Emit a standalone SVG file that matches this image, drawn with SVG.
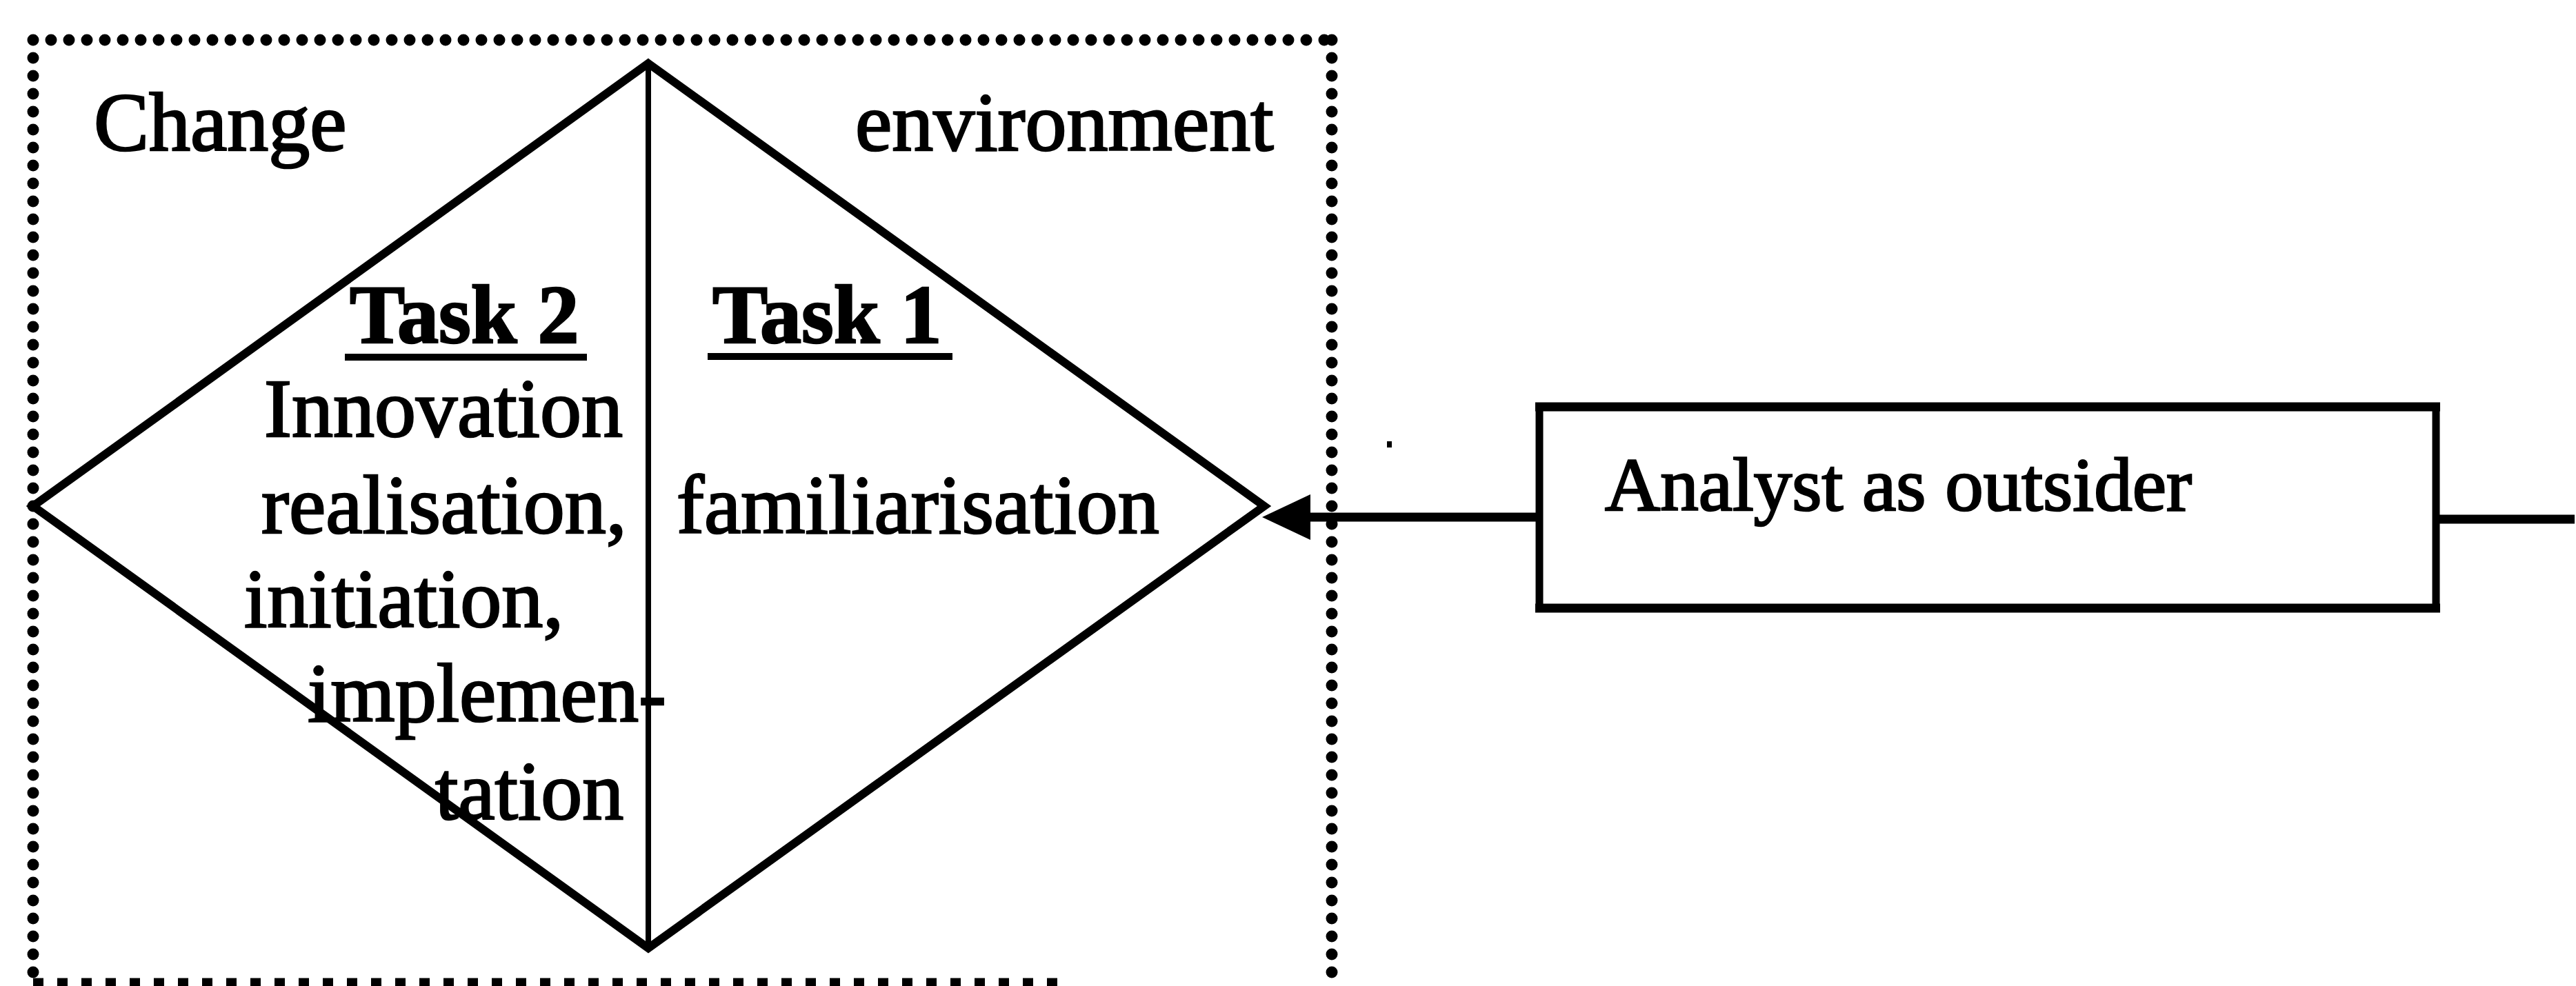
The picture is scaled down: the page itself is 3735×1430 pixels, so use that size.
<svg xmlns="http://www.w3.org/2000/svg" width="3735" height="1430" viewBox="0 0 3735 1430">
  <style>
    .lbl { font-family: "Liberation Serif", "Times New Roman", serif; font-size: 120px; fill: #000; stroke: #000; stroke-width: 2.6; }
    .bold { font-weight: bold; }
    .edge { fill: none; stroke: #000; stroke-linecap: round; stroke-linejoin: miter; }
    .dots { fill: none; stroke: #000; stroke-width: 17; stroke-linecap: round; stroke-dasharray: 0 26; }
  </style>
  <defs>
    <marker id="arrowhead" markerUnits="userSpaceOnUse" markerWidth="72" markerHeight="66" refX="0" refY="33" orient="auto">
      <path d="M0,0 L70,33 L0,66 Z" fill="#000"/>
    </marker>
  </defs>
  <rect width="3735" height="1430" fill="#fff"/>

  <!-- change environment boundary (dotted) -->
  <g id="environment">
    <path class="dots" d="M48,58 H1931 M48,58 V1422 M1931,58 V1422"/>
    <path class="dots" d="M48,1427 H1545" style="stroke-dasharray:15 20;stroke-linecap:butt"/>
    <text class="lbl" x="136" y="218">Change</text>
    <text class="lbl" x="1240" y="218">environment</text>
  </g>

  <!-- task diamond split into Task 2 (left) and Task 1 (right) -->
  <g id="task-diamond">
    <path class="edge" style="stroke-width:12" d="M940,92 L1833,734 L940,1375 L48,734 Z"/>
    <line class="edge" style="stroke-width:8" x1="940" y1="92" x2="940" y2="1375"/>
  </g>

  <g id="task2">
    <text class="lbl bold" x="507" y="497">Task 2</text>
    <line x1="500" y1="518" x2="851" y2="518" stroke="#000" stroke-width="10"/>
    <text class="lbl" x="383" y="633">Innovation</text>
    <text class="lbl" x="379" y="773">realisation,</text>
    <text class="lbl" x="354" y="909">initiation,</text>
    <text class="lbl" x="446" y="1046">implemen-</text>
    <text class="lbl" x="631" y="1188">tation</text>
  </g>

  <g id="task1">
    <text class="lbl bold" x="1033" y="497">Task 1</text>
    <line x1="1026" y1="517" x2="1381" y2="517" stroke="#000" stroke-width="10"/>
    <text class="lbl" x="981" y="773">familiarisation</text>
  </g>

  <!-- analyst box -->
  <g id="analyst">
    <rect x="2232" y="590" width="1300" height="292" fill="none" stroke="#000" stroke-width="11"/>
    <line x1="2226" y1="590" x2="3538" y2="590" stroke="#000" stroke-width="13"/>
    <line x1="2226" y1="882" x2="3538" y2="882" stroke="#000" stroke-width="13"/>
    <text class="lbl" style="font-size:111px" x="2327" y="740">Analyst as outsider</text>
    <rect x="2011" y="640" width="7" height="9" fill="#000"/>
  </g>

  <!-- connectors -->
  <g id="connectors">
    <line x1="2232" y1="750" x2="1900" y2="750" stroke="#000" stroke-width="13" marker-end="url(#arrowhead)"/>
    <line x1="3532" y1="753" x2="3733" y2="753" stroke="#000" stroke-width="13"/>
  </g>
</svg>
